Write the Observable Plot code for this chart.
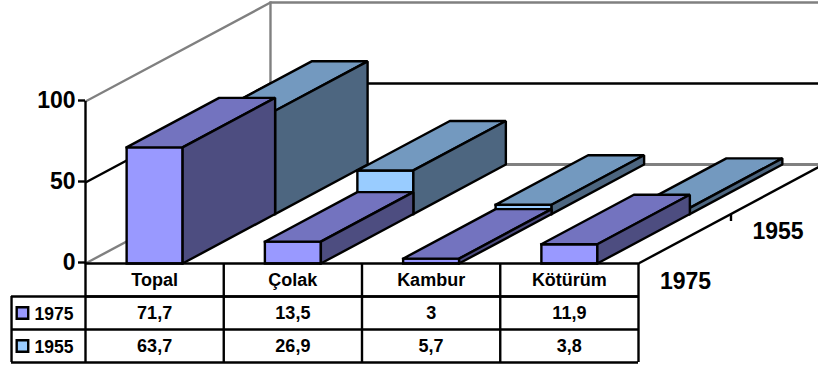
<!DOCTYPE html>
<html>
<head>
<meta charset="utf-8">
<script src="https://cdn.jsdelivr.net/npm/d3@7"></script>
<script src="https://cdn.jsdelivr.net/npm/@observablehq/plot@0.6"></script>
<style>
html,body{margin:0;padding:0;background:#fff}
svg{display:block}
</style>
</head>
<body>
<script>
const categories = ["Topal", "Çolak", "Kambur", "Kötürüm"];
const seriesNames = ["1975", "1955"];
const values1975 = [71.7, 13.5, 3, 11.9];
const values1955 = [63.7, 26.9, 5.7, 3.8];
const valueTicks = [0, 50, 100];
const fills1975 = {front: "#9999ff", top: "#7373bf", side: "#4d4d80"};
const fills1955 = {front: "#99ccff", top: "#7399bf", side: "#4d6680"};

// oblique projection of (category, depth, value) into the plot's x / y scale units
const depthX = 1.338, depthY = 61.1, barHalf = 0.2025;
const P = (c, d, v) => ({x: c + d * depthX, y: v + d * depthY});
const rowH = 20.37;

const seriesRows = [
  {name: "1955", values: values1955, fills: fills1955, d0: 0.5, d1: 1},
  {name: "1975", values: values1975, fills: fills1975, d0: 0, d1: 0.5}
];

const faces = [];
seriesRows.forEach(s => s.values.forEach((v, i) => {
  const a = i + 0.5 - barHalf, b = i + 0.5 + barHalf, {d0, d1} = s;
  const add = (kind, pts) => pts.forEach(p => faces.push({...P(...p), id: `${s.name}-${i}-${kind}`, fill: s.fills[kind]}));
  add("front", [[a,d0,0],[b,d0,0],[b,d0,v],[a,d0,v],[a,d0,0]]);
  add("top",   [[a,d0,v],[b,d0,v],[b,d1,v],[a,d1,v],[a,d0,v]]);
  add("side",  [[b,d0,0],[b,d1,0],[b,d1,v],[b,d0,v],[b,d0,0]]);
}));

const path = (id, pts) => pts.map(p => ({...P(...p), id}));
const n = categories.length;
const greyLines = [
  ...path("top", [[0,0,100],[0,1,100],[n,1,100]]),
  ...path("post", [[0,1,100],[0,1,0]]),
  ...path("floorSide", [[0,0,0],[0,1,0]])
];
const floorBack = path("floorBack", [[0,1,0],[n,1,0]]);
const blackLines = [
  ...path("grid50", [[0,0,50],[0,1,50],[n,1,50]]),
  ...path("edge", [[n,0,0],[n,1,0]]),
  ...path("depthTick", [[n,0.5,0],[n,0.5,-4.3]])
];

const tableLeft = -0.535;
const rowText = [];
categories.forEach((c, i) => {
  rowText.push({x: i + 0.5, y: -rowH * 0.5, t: c});
  rowText.push({x: i + 0.5, y: -rowH * 1.5, t: String(values1975[i]).replace(".", ",")});
  rowText.push({x: i + 0.5, y: -rowH * 2.5, t: String(values1955[i]).replace(".", ",")});
});
const keys = [
  {name: seriesNames[0], y: -rowH * 1.5, fill: fills1975.front},
  {name: seriesNames[1], y: -rowH * 2.5, fill: fills1955.front}
];
const depthLabels = [
  {...P(n + 0.34, 0, -11), t: seriesNames[0]},
  {...P(n + 0.34, 0.5, -11), t: seriesNames[1]}
];

const lw = 2.4;
const chart = Plot.plot({
  width: 818, height: 367,
  marginLeft: 85, marginRight: 180, marginTop: 101, marginBottom: 104,
  style: {fontFamily: "'Liberation Sans', Arial, sans-serif", background: "#fff", color: "#000"},
  x: {domain: [0, n], axis: null},
  y: {domain: [0, 100]},
  marks: [
    Plot.line(greyLines, {x: "x", y: "y", z: "id", stroke: "#808080", strokeWidth: lw, strokeLinejoin: "miter", strokeLinecap: "square"}),
    Plot.line(floorBack, {x: "x", y: "y", stroke: "#808080", strokeWidth: 3}),
    Plot.line(blackLines, {x: "x", y: "y", z: "id", stroke: "#000", strokeWidth: lw, strokeLinecap: "butt"}),
    Plot.line(faces, {x: "x", y: "y", z: "id", fill: "fill", stroke: "#000", strokeWidth: lw, strokeLinejoin: "miter", strokeLinecap: "square"}),
    Plot.axisY({ticks: valueTicks, tickSize: 7, tickPadding: 3, fontSize: 23, fontWeight: "bold", label: null, strokeWidth: lw, stroke: "#000", dy: -1}),
    Plot.ruleX([0], {y1: 0, y2: 100, stroke: "#000", strokeWidth: lw}),
    // data table
    Plot.ruleY([0, -rowH], {x1: 0, x2: n, stroke: "#000", strokeWidth: lw}),
    Plot.ruleY([-rowH, -2 * rowH, -3 * rowH], {x1: tableLeft, x2: n, stroke: "#000", strokeWidth: lw}),
    Plot.ruleX([0, 1, 2, 3, 4], {y1: 0, y2: -3 * rowH, stroke: "#000", strokeWidth: lw}),
    Plot.ruleX([tableLeft], {y1: -rowH, y2: -3 * rowH, stroke: "#000", strokeWidth: lw}),
    Plot.text(rowText, {x: "x", y: "y", text: "t", fontSize: 18, fontWeight: "bold", lineAnchor: "middle", fill: "#000"}),
    Plot.dot(keys, {x: -0.456, y: "y", symbol: "square", r: 6.5, fill: "fill", stroke: "#000", strokeWidth: lw}),
    Plot.text(keys, {x: -0.369, y: "y", text: "name", textAnchor: "start", fontSize: 17.5, fontWeight: "bold", lineAnchor: "middle", fill: "#000", dy: 1.5}),
    Plot.text(depthLabels, {x: "x", y: "y", text: "t", fontSize: 23, fontWeight: "bold", lineAnchor: "middle", fill: "#000"})
  ]
});
document.body.appendChild(chart);
</script>
</body>
</html>
